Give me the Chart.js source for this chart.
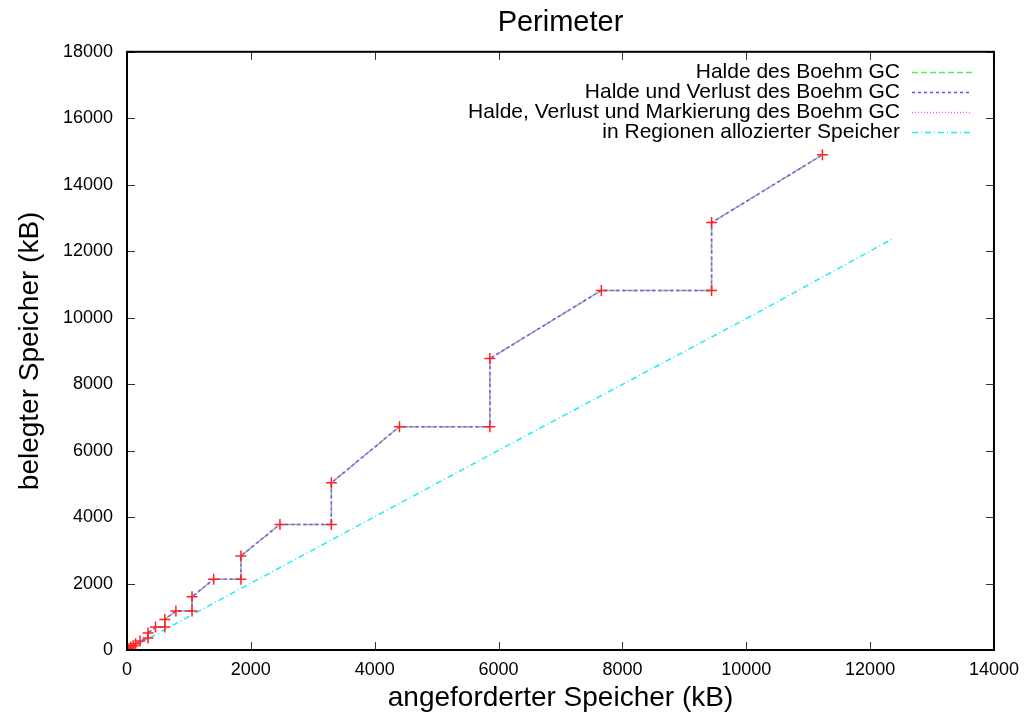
<!DOCTYPE html>
<html>
<head>
<meta charset="utf-8">
<title>Perimeter</title>
<script src="https://cdn.jsdelivr.net/npm/chart.js@4/dist/chart.umd.min.js"></script>
<style>
  html, body { margin: 0; padding: 0; background: #fff; }
  #wrap { width: 1028px; height: 718px; }
</style>
</head>
<body>
<div id="wrap"><canvas id="perimeterChart"></canvas></div>
<script>
"use strict";

// requested memory (x) and occupied memory (y), kB
var requested = [0, 30, 60, 100, 140, 210, 340, 340, 460, 610, 610, 790, 1050, 1050, 1400, 1840, 1840, 2470, 3300, 3300, 4400, 5860, 5860, 7660, 9440, 9440, 11230];
var heap = [0, 40, 90, 130, 190, 270, 360, 510, 690, 690, 920, 1170, 1170, 1600, 2130, 2130, 2830, 3780, 3780, 5030, 6720, 6720, 8770, 10820, 10820, 12860, 14900];
var heapLoss = [0, 40, 90, 130, 190, 270, 360, 510, 690, 690, 920, 1170, 1170, 1600, 2130, 2130, 2830, 3780, 3780, 5030, 6720, 6720, 8770, 10820, 10820, 12860, 14900];
var heapLossMark = [0, 40, 90, 130, 190, 270, 360, 510, 690, 690, 920, 1170, 1170, 1600, 2130, 2130, 2830, 3780, 3780, 5030, 6720, 6720, 8770, 10820, 10820, 12860, 14900];

// memory allocated in regions
var regionX = [0, 1530, 6070, 10210, 12360];
var regionY = [0, 1540, 6080, 10180, 12370];

var xTicks = [0, 2000, 4000, 6000, 8000, 10000, 12000, 14000];
var yTicks = [0, 2000, 4000, 6000, 8000, 10000, 12000, 14000, 16000, 18000];

function pts(xs, ys) {
  return xs.map(function (x, i) { return { x: x, y: ys[i] }; });
}

var font = "'Liberation Sans', Arial, sans-serif";

// frame, inward ticks (gnuplot style) and legend
var gnuplotLook = {
  id: 'gnuplotLook',
  afterDraw: function (chart) {
    var ctx = chart.ctx;
    var a = chart.chartArea;
    var xs = chart.scales.x;
    var ys = chart.scales.y;
    ctx.save();

    ctx.strokeStyle = '#333';
    ctx.lineWidth = 1;
    ctx.beginPath();
    xTicks.forEach(function (t) {
      var px = Math.round(xs.getPixelForValue(t)) + 0.5;
      ctx.moveTo(px, a.bottom); ctx.lineTo(px, a.bottom - 8);
      ctx.moveTo(px, a.top); ctx.lineTo(px, a.top + 8);
    });
    yTicks.forEach(function (t) {
      var py = Math.round(ys.getPixelForValue(t)) + 0.5;
      ctx.moveTo(a.left, py); ctx.lineTo(a.left + 8, py);
      ctx.moveTo(a.right, py); ctx.lineTo(a.right - 8, py);
    });
    ctx.stroke();

    ctx.strokeStyle = '#000';
    ctx.lineWidth = 2;
    ctx.strokeRect(a.left, a.top, a.right - a.left, a.bottom - a.top);

    // legend, text right aligned, sample on the right
    var row = 0;
    chart.data.datasets.forEach(function (ds) {
      if (!ds.label) return;
      var y = 72 + row * 20;
      ctx.fillStyle = '#000';
      ctx.font = '21px ' + font;
      ctx.textAlign = 'right';
      ctx.textBaseline = 'middle';
      ctx.fillText(ds.label, 900, y);
      ctx.strokeStyle = ds.borderColor;
      ctx.lineWidth = ds.borderWidth;
      ctx.setLineDash(ds.borderDash || []);
      ctx.beginPath();
      ctx.moveTo(912, y + 0.5);
      ctx.lineTo(972, y + 0.5);
      ctx.stroke();
      ctx.setLineDash([]);
      row++;
    });
    ctx.restore();
  }
};

var ctx = document.getElementById('perimeterChart').getContext('2d');
var myChart = new Chart(ctx, {
  type: 'line',
  data: {
    datasets: [{
      label: 'Halde des Boehm GC',
      data: pts(requested, heap),
      borderColor: '#55ee55',
      borderWidth: 1.5,
      borderDash: [6, 3],
      pointRadius: 0,
      order: 5
    }, {
      label: 'Halde und Verlust des Boehm GC',
      data: pts(requested, heapLoss),
      borderColor: '#5555ff',
      borderWidth: 1.5,
      borderDash: [3, 3],
      pointRadius: 0,
      order: 4
    }, {
      label: 'Halde, Verlust und Markierung des Boehm GC',
      data: pts(requested, heapLossMark),
      borderColor: '#ff55ff',
      borderWidth: 1.5,
      borderDash: [1, 2],
      pointRadius: 0,
      order: 3
    }, {
      label: 'in Regionen allozierter Speicher',
      data: pts(regionX, regionY),
      borderColor: '#22eeee',
      borderWidth: 1.5,
      borderDash: [6, 3, 1, 3],
      pointRadius: 0,
      order: 6
    }, {
      label: '',
      data: pts(requested, heap),
      showLine: false,
      pointStyle: 'cross',
      pointRadius: 5.5,
      pointBorderColor: '#ff2222',
      pointBorderWidth: 1.5,
      borderColor: '#ff2222',
      order: 1
    }]
  },
  options: {
    responsive: true,
    maintainAspectRatio: false,
    animation: false,
    layout: { padding: { right: 33 } },
    plugins: {
      legend: { display: false },
      tooltip: { enabled: false },
      title: {
        display: true,
        text: 'Perimeter',
        fullSize: false,
        color: '#000',
        font: { family: font, size: 29, weight: 'normal', lineHeight: 1.2 },
        padding: { top: 6, bottom: 11 }
      }
    },
    scales: {
      x: {
        type: 'linear',
        min: 0,
        max: 14000,
        afterBuildTicks: function (scale) {
          scale.ticks = xTicks.map(function (v) { return { value: v }; });
        },
        afterFit: function (scale) { scale.height = 68; },
        grid: { display: false, drawTicks: false },
        border: { display: false },
        ticks: {
          color: '#000',
          padding: 9,
          maxRotation: 0,
          font: { family: font, size: 18 },
          callback: function (v) { return v; }
        },
        title: {
          display: true,
          text: 'angeforderter Speicher (kB)',
          color: '#000',
          font: { family: font, size: 28, lineHeight: 1.2 },
          padding: { top: 0, bottom: 3 }
        }
      },
      y: {
        type: 'linear',
        min: 0,
        max: 18000,
        afterBuildTicks: function (scale) {
          scale.ticks = yTicks.map(function (v) { return { value: v }; });
        },
        afterFit: function (scale) { scale.width = 127; },
        grid: { display: false, drawTicks: false },
        border: { display: false },
        ticks: {
          color: '#000',
          padding: 14,
          font: { family: font, size: 18 },
          callback: function (v) { return v; }
        },
        title: {
          display: true,
          text: 'belegter Speicher (kB)',
          color: '#000',
          font: { family: font, size: 28, lineHeight: 1.2 },
          padding: { top: 13, bottom: 0 }
        }
      }
    }
  },
  plugins: [gnuplotLook]
});
</script>
</body>
</html>
